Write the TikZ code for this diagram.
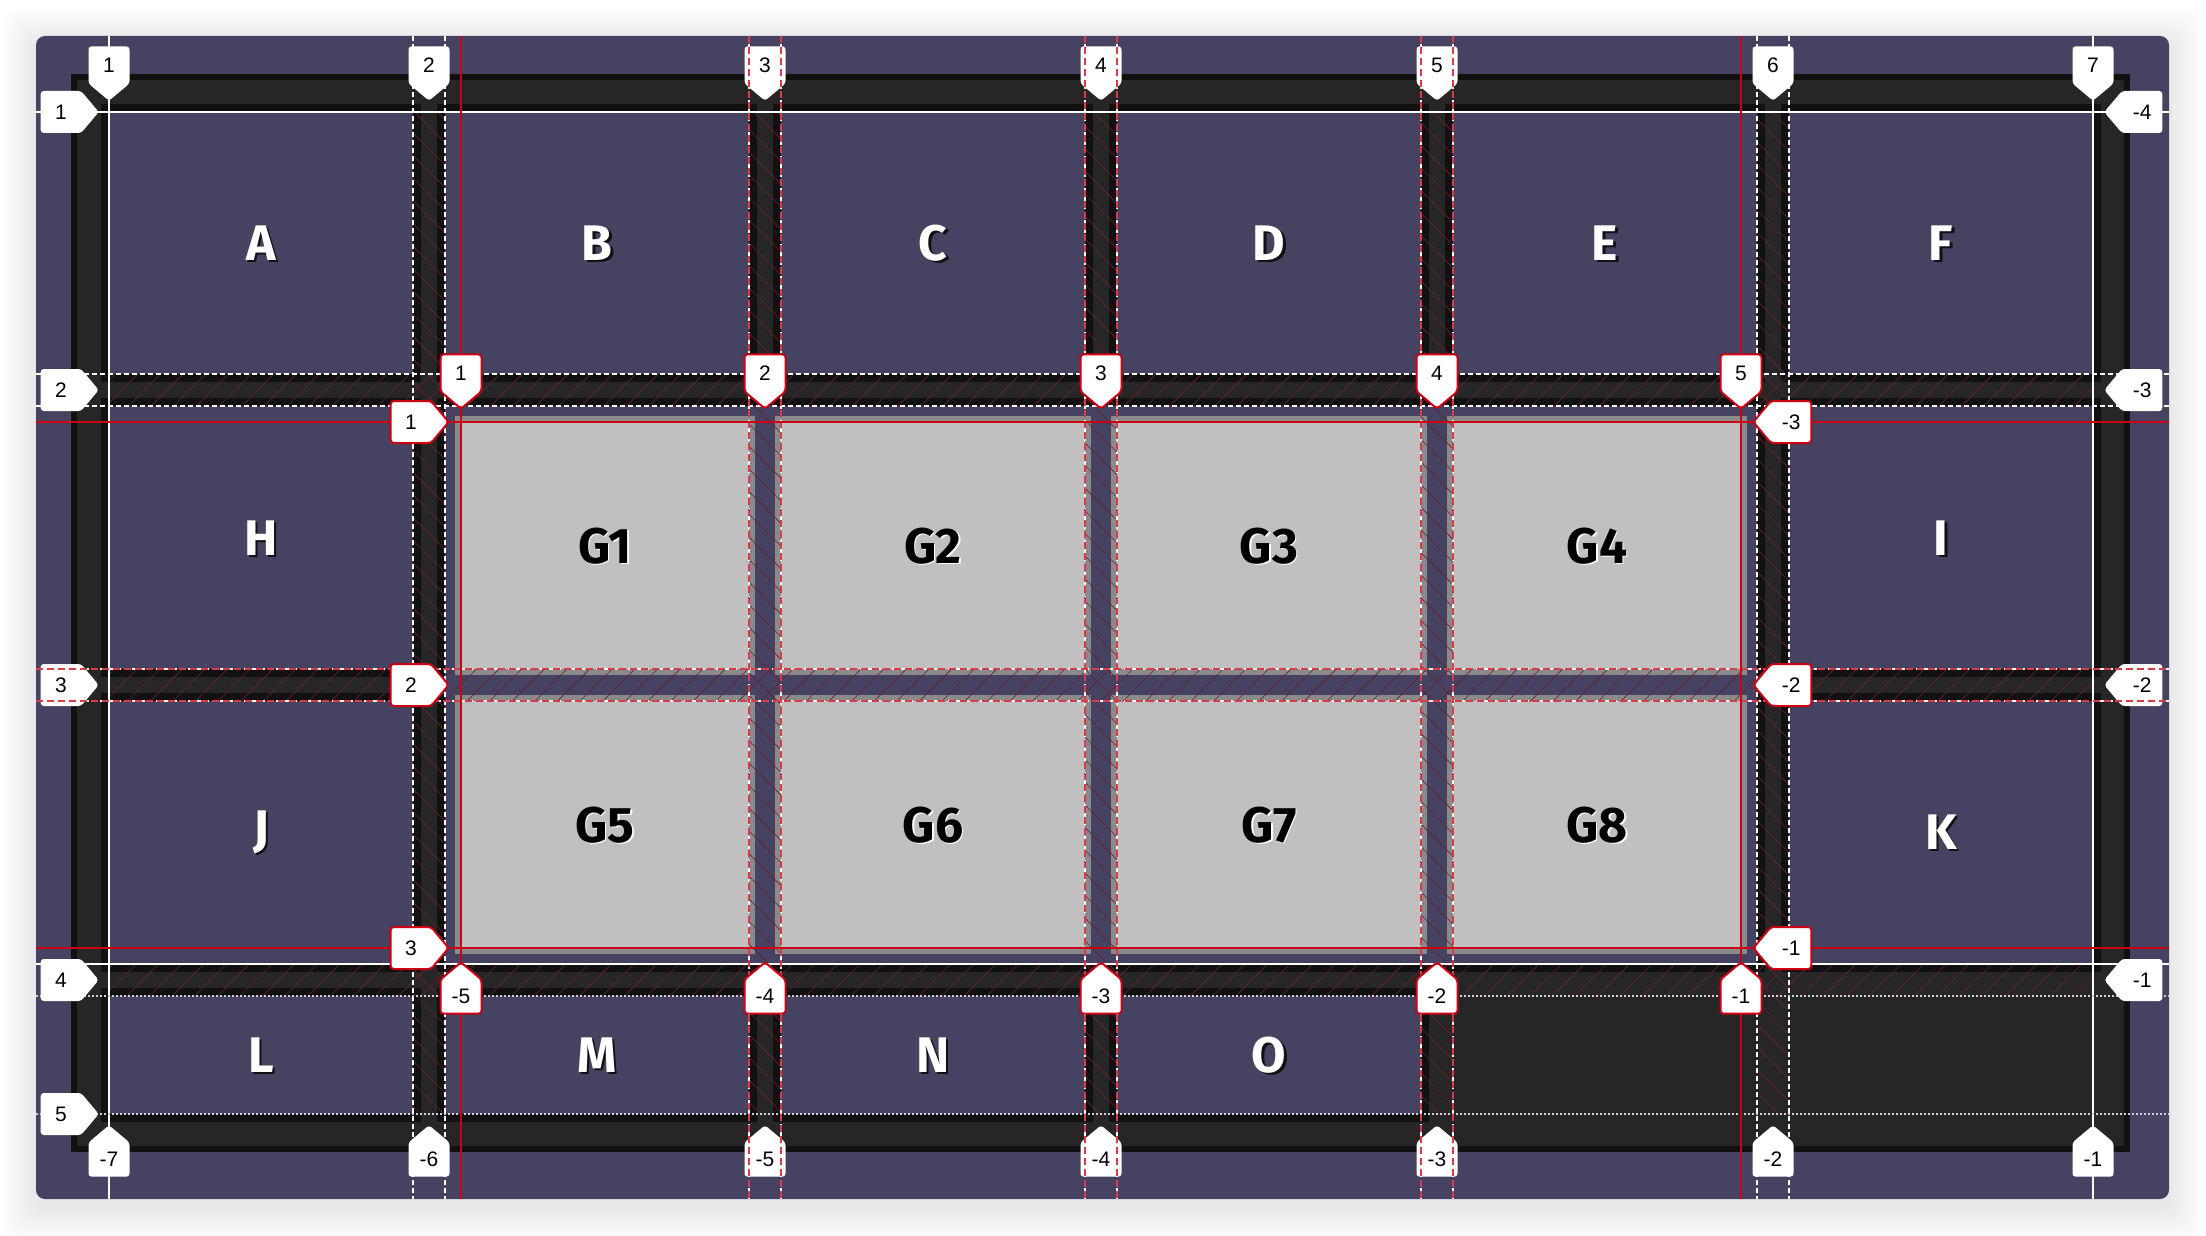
\documentclass[tikz,border=0pt]{standalone}
\usepackage{fontspec}
\setmainfont{Liberation Sans}
\newfontfamily\cellfont{Fira Sans}
\usepackage{tikz}
\usetikzlibrary{shapes.symbols,patterns.meta,positioning}

\definecolor{panel}{RGB}{69,66,98}
\definecolor{wrapfill}{RGB}{38,38,38}
\definecolor{outl}{RGB}{17,17,17}
\definecolor{gfill}{RGB}{192,192,192}
\definecolor{gedge}{RGB}{138,138,138}
\definecolor{gridred}{RGB}{204,0,17}
\definecolor{dashred}{RGB}{222,58,70}
\definecolor{hatch}{RGB}{105,32,48}

\begin{document}
\begin{tikzpicture}[x=1pt,y=-1pt]
  \tikzstyle{badge}=[signal,fill=white,text=black,inner sep=0pt,
    signal pointer angle=100,rounded corners=3pt,font=\fontsize{21}{21}\selectfont]
  \tikzstyle{vbadge}=[badge,minimum width=41pt,minimum height=42pt]
  \tikzstyle{hbadge}=[badge,minimum width=58pt,minimum height=42pt]
  \tikzstyle{subred}=[draw=gridred,line width=2pt]
  \tikzstyle{cell}=[font=\cellfont\bfseries\fontsize{50}{50}\selectfont,text=white]
  \tikzstyle{gline}=[white,line width=1.6pt]
  \tikzstyle{gdash}=[gline,dash pattern=on 5pt off 3pt]
  \tikzstyle{gdot}=[white!75!panel,line width=1.6pt,dash pattern=on 2pt off 2pt]
  \tikzstyle{subline}=[gridred,line width=2pt]
  \tikzstyle{subdash}=[dashred,line width=2pt,dash pattern=on 7pt off 4pt]

  \path[use as bounding box,fill=white] (0,0) rectangle (2206,1236);

  % panel and its shadow
  \foreach \s in {3,6,...,33}
    \fill[black,opacity=.009,rounded corners=14pt] ({36-\s},{42-\s}) rectangle ({2169+\s},{1208+\s});
  \fill[panel,rounded corners=9pt] (36,36) rectangle (2169,1199);

  % grid container
  \fill[outl] (71,74) rectangle (2130,1152);
  \fill[wrapfill] (77,80) rectangle (2124,1146);

  % grid items
  \foreach \xa/\ya/\xb/\yb in {109/112/413/374,445/112/749/374,781/112/1085/374,1117/112/1421/374,
      1453/112/1757/374,1789/112/2093/374,109/406/413/669,445/406/1757/964,1789/406/2093/669,
      109/701/413/964,1789/701/2093/964,109/996/413/1114,445/996/749/1114,781/996/1085/1114,
      1117/996/1421/1114} {
    \fill[outl] ({\xa-8},{\ya-8}) rectangle ({\xb+8},{\yb+8});
    \fill[panel] (\xa,\ya) rectangle (\xb,\yb);
  }

  % subgrid items
  \foreach \xa/\xb in {461/749,781/1085,1117/1421,1453/1741}
    \foreach \ya/\yb in {422/669,701/948} {
      \fill[gedge] ({\xa-6},{\ya-6}) rectangle ({\xb+6},{\yb+6});
      \fill[gfill] (\xa,\ya) rectangle (\xb,\yb);
    }

  % gap hatching
  \foreach \xa/\xb in {413/445,749/781,1085/1117,1421/1453,1757/1789}
    \fill[pattern={Lines[angle=-45,distance=16pt,line width=.6pt]},pattern color=hatch] (\xa,112) rectangle (\xb,1114);
  \foreach \ya/\yb in {374/406,669/701,964/996}
    \fill[pattern={Lines[angle=45,distance=16pt,line width=.6pt]},pattern color=hatch] (109,\ya) rectangle (2093,\yb);

  % grid lines
  \foreach \x in {109,2093} \draw[gline] (\x,36) -- (\x,1199);
  \foreach \y in {112,964} \draw[gline] (36,\y) -- (2169,\y);
  \foreach \x in {413,445,749,781,1085,1117,1421,1453,1757,1789} \draw[gdash] (\x,36) -- (\x,1199);
  \foreach \y in {374,406,669,701} \draw[gdash] (36,\y) -- (2169,\y);
  \foreach \y in {996,1114} \draw[gdot] (36,\y) -- (2169,\y);

  % item names
  \foreach \n/\x/\y in {A/261/243,B/597/243,C/933/243,D/1269/243,E/1605/243,F/1941/243,
      H/261/538,I/1941/538,J/261/832,K/1941/832,L/261/1055,M/597/1055,N/933/1055,O/1269/1055} {
    \node[cell,text=outl] (s\n) at ({\x+2.5},{\y+2.5}) {\n};
    \node[cell] (\n) at (\x,\y) {\n};
  }
  \foreach \n/\x/\y in {G1/605/546,G2/933/546,G3/1269/546,G4/1597/546,
      G5/605/825,G6/933/825,G7/1269/825,G8/1597/825} {
    \node[cell,text=white] (s\n) at ({\x+1.5},{\y+1.5}) {\n};
    \node[cell,text=black] (\n) at (\x,\y) {\n};
  }

  % outer grid line numbers
  \foreach \x/\t [count=\i] in {109/1,429/2,765/3,1101/4,1437/5,1773/6,2093/7} {
    \node[vbadge,signal to=south,anchor=south] (top\i) at (\x,101) {\t};
    \node[vbadge,signal to=north,anchor=north] (bot\i) at (\x,1125) {-\the\numexpr8-\i\relax};
  }
  \foreach \y [count=\i] in {112,390,685,980,1114}
    \node[hbadge,signal to=east,anchor=east] (lft\i) at (99,\y) {\i};
  \foreach \y/\t [count=\i] in {112/-4,390/-3,685/-2,980/-1}
    \node[hbadge,signal to=west,anchor=west] (rgt\i) at (2104,\y) {\t};

  % subgrid lines
  \foreach \x in {749,781,1085,1117,1421,1453} \draw[subdash] (\x,36) -- (\x,1199);
  \foreach \y in {669,701} \draw[subdash] (36,\y) -- (2169,\y);
  \foreach \x in {461,1741} \draw[subline] (\x,36) -- (\x,1199);
  \foreach \y in {422,948} \draw[subline] (36,\y) -- (2169,\y);

  % subgrid line numbers
  \foreach \x [count=\i] in {461,765,1101,1437,1741} {
    \node[vbadge,subred,signal to=south,anchor=south] (stop\i) at (\x,410) {\i};
    \node[vbadge,subred,signal to=north,anchor=north] (sbot\i) at (\x,961) {-\the\numexpr6-\i\relax};
  }
  \foreach \y [count=\i] in {422,685,948} {
    \node[hbadge,subred,signal to=east,anchor=east] (slft\i) at (450,\y) {\i};
    \node[hbadge,subred,signal to=west,anchor=west] (srgt\i) at (1752,\y) {-\the\numexpr4-\i\relax};
  }
\end{tikzpicture}
\end{document}
